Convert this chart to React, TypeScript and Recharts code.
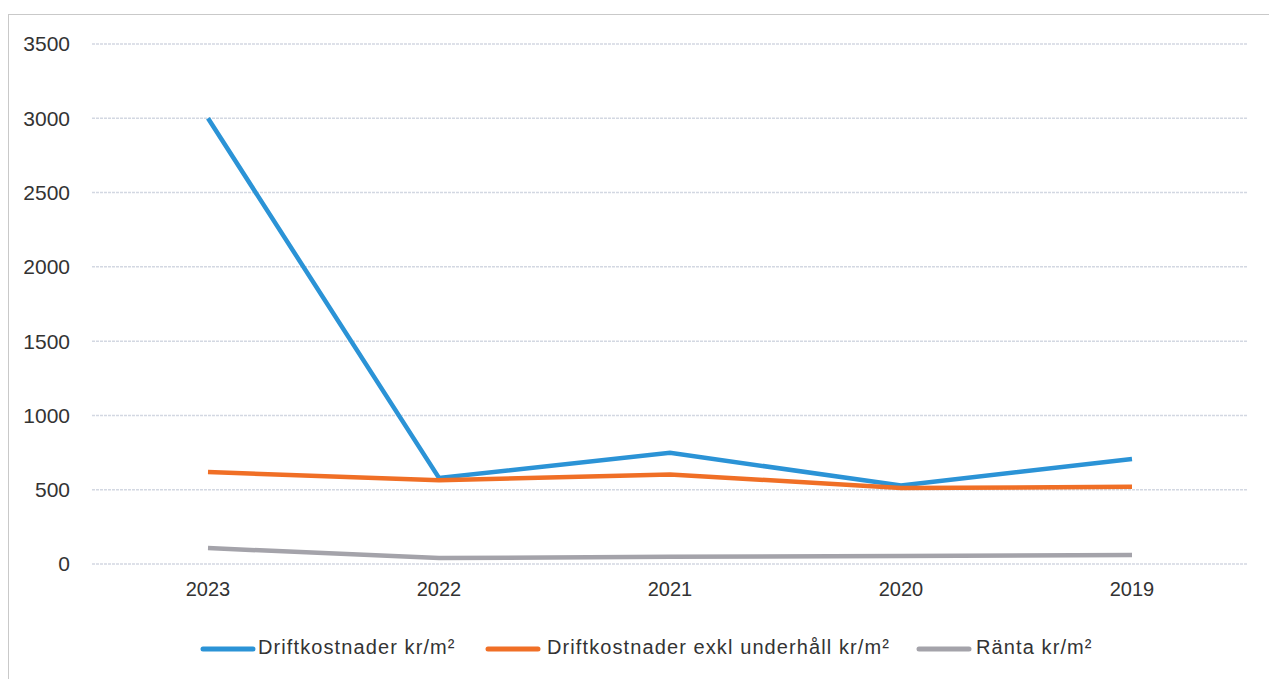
import React from 'react';
import { LineChart, Line, XAxis, YAxis, CartesianGrid, Legend } from 'recharts';

const years = ['2023', '2022', '2021', '2020', '2019'];
const driftkostnader = [3000, 579, 748, 528, 707];
const driftExklUnderhall = [619, 563, 603, 511, 520];
const ranta = [107, 40, 49, 54, 60];
const yTicks = [0, 500, 1000, 1500, 2000, 2500, 3000, 3500];

const series = [
  { key: 'drift', name: 'Driftkostnader kr/m²', color: '#2b93d6', values: driftkostnader },
  { key: 'exkl', name: 'Driftkostnader exkl underhåll kr/m²', color: '#f06f26', values: driftExklUnderhall },
  { key: 'ranta', name: 'Ränta kr/m²', color: '#a4a3aa', values: ranta },
];

const data = years.map((y, i) => {
  const row: Record<string, string | number> = { year: y };
  series.forEach((s) => { row[s.key] = s.values[i]; });
  return row;
});

const legendIconX = [200, 485, 916];
const legendTextX = [258, 547, 976];

const FONT = '"Liberation Sans", Arial, sans-serif';

const LegendContent = () => (
  <div style={{ position: 'relative', width: 1269, height: 36 }}>
    {series.map((s, i) => (
      <React.Fragment key={s.key}>
        <svg style={{ position: 'absolute', left: legendIconX[i], top: 15 }} width={56} height={8}>
          <line x1={3} y1={4} x2={53} y2={4} stroke={s.color} strokeWidth={5} strokeLinecap="round" />
        </svg>
        <span
          style={{
            position: 'absolute',
            left: legendTextX[i],
            top: 6,
            fontFamily: FONT,
            fontSize: 20,
            letterSpacing: 1.1,
            color: '#333',
            whiteSpace: 'nowrap',
          }}
        >
          {s.name}
        </span>
      </React.Fragment>
    ))}
  </div>
);

export default function App() {
  return (
    <div style={{ position: 'absolute', left: 0, top: 0, width: 1269, height: 679, background: '#fff', overflow: 'hidden' }}>
      <div
        style={{
          position: 'absolute',
          left: 8,
          top: 14,
          width: 1300,
          height: 700,
          borderLeft: '1px solid #c9c9c9',
          borderTop: '1px solid #c9c9c9',
        }}
      />
      <LineChart
        width={1269}
        height={679}
        data={data}
        margin={{ top: 44, right: 21, bottom: 65, left: 0 }}
        style={{ position: 'absolute', left: 0, top: 0 }}
      >
        <CartesianGrid vertical={false} stroke="#d3d8e2" strokeWidth={1.5} strokeDasharray="3 1" />
        <XAxis
          dataKey="year"
          padding={{ left: 116, right: 116 }}
          axisLine={false}
          tickLine={false}
          tickSize={0}
          tickMargin={18}
          height={50}
          tick={{ fontSize: 20, fill: '#333', fontFamily: FONT }}
        />
        <YAxis
          width={92}
          domain={[0, 3500]}
          ticks={yTicks}
          interval={0}
          axisLine={false}
          tickLine={false}
          tickSize={0}
          tickMargin={22}
          tick={{ fontSize: 21, fill: '#333', fontFamily: FONT }}
        />
        {series.map((s) => (
          <Line
            key={s.key}
            type="linear"
            dataKey={s.key}
            name={s.name}
            stroke={s.color}
            strokeWidth={4.5}
            dot={false}
            activeDot={false}
            isAnimationActive={false}
          />
        ))}
        <Legend
          layout="horizontal"
          verticalAlign="middle"
          align="center"
          wrapperStyle={{ top: 630, left: 0, width: 1269 }}
          content={<LegendContent />}
        />
      </LineChart>
    </div>
  );
}
